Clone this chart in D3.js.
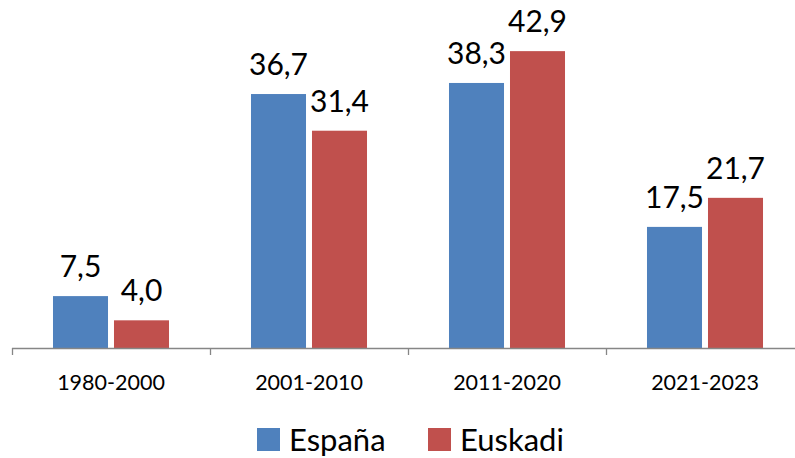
<!DOCTYPE html>
<html>
<head>
<meta charset="utf-8">
<script src="https://cdn.jsdelivr.net/npm/d3@7"></script>
<style>
body { margin: 0; background: #fff; }
svg text { font-family: Lato, "Open Sans", sans-serif; fill: #000; }
</style>
</head>
<body>
<div id="chart"></div>
<script>
var categories = ["1980-2000", "2001-2010", "2011-2020", "2021-2023"];
var series = ["España", "Euskadi"];
var espana = [7.5, 36.7, 38.3, 17.5];
var euskadi = [4.0, 31.4, 42.9, 21.7];
var colors = ["#4f81bd", "#c0504d"];

var width = 795, height = 458;
var baseY = 348;

var svg = d3.select("#chart").append("svg")
    .attr("width", width)
    .attr("height", height);

var x0 = d3.scaleBand().domain(categories).range([12, 804]);
var x1 = d3.scaleBand().domain(series).range([0, x0.bandwidth()])
    .paddingInner(0.098).paddingOuter(0.672);
var y = d3.scaleLinear().domain([0, 50]).range([baseY, 2]);

var data = categories.map(function(c, i) {
    return {cat: c, vals: [espana[i], euskadi[i]]};
});

var groups = svg.selectAll("g.grp")
    .data(data)
    .enter().append("g")
        .attr("class", "grp")
        .attr("transform", function(d) { return "translate(" + x0(d.cat) + ",0)"; });

groups.selectAll("rect")
    .data(function(d) { return d.vals.map(function(v, j) { return {s: series[j], v: v, j: j}; }); })
    .enter().append("rect")
        .attr("x", function(d) { return x1(d.s); })
        .attr("y", function(d) { return y(d.v); })
        .attr("width", x1.bandwidth())
        .attr("height", function(d) { return baseY - y(d.v); })
        .attr("fill", function(d) { return colors[d.j]; });

groups.selectAll("text.val")
    .data(function(d) { return d.vals.map(function(v, j) { return {s: series[j], v: v}; }); })
    .enter().append("text")
        .attr("class", "val")
        .attr("x", function(d) { return x1(d.s) + x1.bandwidth() / 2; })
        .attr("y", function(d) { return y(d.v) - 19; })
        .attr("text-anchor", "middle")
        .style("font-size", "30px")
        .text(function(d) { return d.v.toFixed(1).replace(".", ","); });

// axis
var axis = svg.append("g");
axis.append("line")
    .attr("x1", 12).attr("x2", width)
    .attr("y1", baseY + 0.5).attr("y2", baseY + 0.5)
    .attr("stroke", "#868686").attr("stroke-width", 1.3);
axis.selectAll("line.tick")
    .data(categories)
    .enter().append("line")
        .attr("class", "tick")
        .attr("x1", function(d) { return x0(d) + 0.5; })
        .attr("x2", function(d) { return x0(d) + 0.5; })
        .attr("y1", baseY).attr("y2", baseY + 7)
        .attr("stroke", "#868686").attr("stroke-width", 1.3);
axis.selectAll("text")
    .data(categories)
    .enter().append("text")
        .attr("x", function(d) { return x0(d) + x0.bandwidth() / 2; })
        .attr("y", 390)
        .attr("text-anchor", "middle")
        .style("font-size", "21.5px")
        .text(function(d) { return d; });

// legend
var legX = [257, 428];
var legend = svg.selectAll("g.leg")
    .data(series)
    .enter().append("g")
        .attr("class", "leg")
        .attr("transform", function(d, i) { return "translate(" + legX[i] + ",428)"; });
legend.append("rect")
    .attr("width", 23).attr("height", 23)
    .attr("fill", function(d, i) { return colors[i]; });
legend.append("text")
    .attr("x", 32).attr("y", 23)
    .style("font-size", "31px")
    .text(function(d) { return d; });
</script>
</body>
</html>
